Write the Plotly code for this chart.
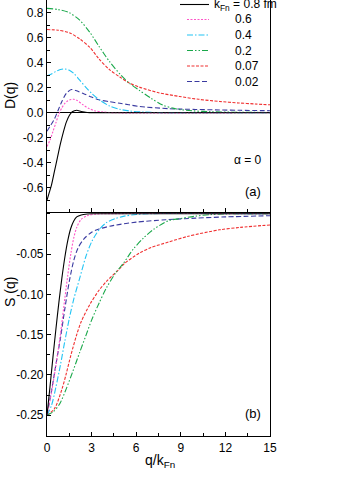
import plotly.graph_objects as go

# ---------------- data: panel (a) D(q) ----------------
q_D_08 = [0, 0.15, 0.3, 0.5, 0.7, 0.9, 1.1, 1.3, 1.5, 1.7, 2.0, 2.3, 2.7, 3.2, 4, 15]
D_08 = [-0.70, -0.64, -0.58, -0.47, -0.36, -0.25, -0.155, -0.075, -0.022, 0.008, 0.02, 0.01, 0.002, 0.0, 0.0, 0.0]

q_D_06 = [0, 0.2, 0.4, 0.6, 0.8, 1.0, 1.2, 1.4, 1.6, 1.8, 2.0, 2.4, 2.8, 3.2, 3.8, 4.5, 15]
D_06 = [-0.27, -0.22, -0.15, -0.08, -0.01, 0.04, 0.075, 0.095, 0.105, 0.107, 0.10, 0.065, 0.035, 0.016, 0.005, 0.0, 0.0]

q_D_04 = [0, 0.3, 0.6, 0.9, 1.2, 1.5, 1.8, 2.2, 2.6, 3.0, 3.5, 4.2, 4.9, 5.6, 6.5, 8, 15]
D_04 = [0.295, 0.31, 0.33, 0.345, 0.35, 0.34, 0.315, 0.26, 0.205, 0.155, 0.105, 0.054, 0.027, 0.013, 0.005, 0.0, 0.0]

q_D_02 = [0, 0.75, 1.5, 2.2, 2.9, 3.5, 4.2, 4.9, 5.5, 6.2, 7.0, 7.8, 8.7, 9.8, 11, 13, 15]
D_02 = [0.835, 0.825, 0.80, 0.74, 0.64, 0.53, 0.41, 0.31, 0.24, 0.18, 0.115, 0.06, 0.03, 0.015, 0.008, 0.003, 0.002]

q_D_007 = [0, 0.75, 1.5, 2.2, 2.9, 3.5, 4.2, 4.9, 5.5, 6.2, 7.5, 8.9, 10.2, 11.6, 12.9, 14, 15]
D_007 = [0.665, 0.66, 0.64, 0.59, 0.52, 0.43, 0.345, 0.285, 0.24, 0.205, 0.16, 0.13, 0.107, 0.09, 0.078, 0.07, 0.063]

q_D_002 = [0, 0.25, 0.5, 0.75, 1.0, 1.3, 1.65, 2.0, 2.5, 3.0, 3.5, 4.2, 4.9, 5.5, 6.2, 8.2, 10, 11.6, 13, 15]
D_002 = [-0.148, -0.10, -0.05, 0.02, 0.09, 0.155, 0.185, 0.175, 0.15, 0.125, 0.103, 0.088, 0.075, 0.064, 0.05, 0.032, 0.026, 0.022, 0.019, 0.016]

# ---------------- data: panel (b) S(q) ----------------
q_S_08 = [0, 0.2, 0.4, 0.6, 0.8, 1.0, 1.2, 1.4, 1.6, 1.8, 2.0, 2.3, 2.7, 3.0, 15]
S_08 = [-0.25, -0.215, -0.178, -0.143, -0.11, -0.08, -0.054, -0.033, -0.018, -0.009, -0.004, -0.0015, -0.0003, 0, 0]

q_S_06 = [0, 0.3, 0.6, 0.9, 1.2, 1.4, 1.6, 1.8, 2.0, 2.3, 2.7, 3.3, 4, 15]
S_06 = [-0.25, -0.222, -0.188, -0.15, -0.105, -0.076, -0.05, -0.03, -0.017, -0.007, -0.0025, -0.0005, 0, 0]

q_S_04 = [0, 0.3, 0.6, 0.9, 1.2, 1.5, 1.8, 2.2, 2.6, 3.0, 3.5, 4.0, 4.6, 5.2, 6.0, 7, 15]
S_04 = [-0.25, -0.238, -0.215, -0.188, -0.158, -0.13, -0.106, -0.08, -0.054, -0.035, -0.02, -0.011, -0.006, -0.003, -0.001, 0, 0]

q_S_02 = [0, 0.4, 0.85, 1.3, 1.75, 2.2, 2.6, 3.0, 3.5, 4.0, 4.6, 5.2, 5.8, 6.5, 7.2, 8.2, 8.9, 10, 11, 12, 13, 15]
S_02 = [-0.25, -0.246, -0.236, -0.217, -0.195, -0.172, -0.152, -0.132, -0.111, -0.092, -0.074, -0.060, -0.044, -0.03, -0.019, -0.0085, -0.0062, -0.003, -0.0012, -0.0003, 0, 0]

q_S_007 = [0, 0.5, 1.0, 1.3, 1.6, 2.0, 2.3, 2.9, 3.5, 4.0, 4.9, 5.2, 6.2, 7.0, 8.2, 9.5, 11.6, 13, 15]
S_007 = [-0.25, -0.242, -0.218, -0.198, -0.176, -0.15, -0.134, -0.112, -0.095, -0.084, -0.068, -0.062, -0.049, -0.042, -0.035, -0.028, -0.020, -0.017, -0.014]

q_S_002 = [0, 0.3, 0.6, 0.9, 1.2, 1.5, 1.8, 2.1, 2.5, 3.0, 3.5, 4.5, 6, 8, 10, 12, 15]
S_002 = [-0.25, -0.22, -0.187, -0.155, -0.118, -0.084, -0.058, -0.042, -0.031, -0.023, -0.019, -0.0145, -0.0105, -0.0075, -0.0055, -0.004, -0.0025]

# legend / series labels
series_labels = ["k<sub>Fn</sub> = 0.8 fm", "0.6", "0.4", "0.2", "0.07", "0.02"]

# tick labels
D_ticks = [-0.6, -0.4, -0.2, 0.0, 0.2, 0.4, 0.6, 0.8]
S_ticks = [-0.25, -0.20, -0.15, -0.10, -0.05]
q_ticks = [0, 3, 6, 9, 12, 15]

# ---------------- styles ----------------
FONT = "Liberation Sans, Arial, sans-serif"
styles = [
    ("#000000", "solid"),
    ("#ff55c8", "2px,1.5px"),
    ("#22c4f4", "6px,2px,1.5px,2px"),
    ("#1aa84a", "6px,2px,1.5px,2px,1.5px,2px"),
    ("#f03030", "3px,1.5px"),
    ("#3a3aa0", "5px,2.5px"),
]

D_data = [(q_D_08, D_08), (q_D_06, D_06), (q_D_04, D_04), (q_D_02, D_02), (q_D_007, D_007), (q_D_002, D_002)]
S_data = [(q_S_08, S_08), (q_S_06, S_06), (q_S_04, S_04), (q_S_02, S_02), (q_S_007, S_007), (q_S_002, S_002)]

W, H = 338, 495
PL, PR, PT, PB = 47, 270, 0, 436  # plot area in px
SPLIT = 212  # px boundary between panels

fig = go.Figure()
order = [5, 4, 3, 2, 1, 0]
for i in order:
    col, dash = styles[i]
    q, d = D_data[i]
    fig.add_trace(go.Scatter(x=q, y=d, mode="lines", xaxis="x", yaxis="y",
                             line=dict(color=col, dash=dash, width=1.1, shape="spline", smoothing=0.8),
                             showlegend=False, name=series_labels[i]))
for i in order:
    col, dash = styles[i]
    q, s = S_data[i]
    fig.add_trace(go.Scatter(x=q, y=s, mode="lines", xaxis="x2", yaxis="y2",
                             line=dict(color=col, dash=dash, width=1.1, shape="spline", smoothing=0.8),
                             showlegend=False, name=series_labels[i]))

def px2paper(px, py):
    return (px - PL) / (PR - PL), (PB - py) / (PB - PT)

split_frac = (PB - SPLIT) / (PB - PT)

axis_common = dict(showline=True, linecolor="black", linewidth=1.2, ticks="inside",
                   tickcolor="black", ticklen=4, tickwidth=1, showgrid=False, automargin=False,
                   tickfont=dict(family=FONT, size=12, color="black"))

D_range = [-(SPLIT - 112.7) / 125.0, 112.7 / 125.0]
S_range = [-(PB - 213.7) / 806.0, (213.7 - SPLIT) / 806.0]

fig.update_layout(
    width=W, height=H,
    margin=dict(l=PL, r=W - PR, t=PT, b=H - PB, autoexpand=False),
    paper_bgcolor="white", plot_bgcolor="white",
    xaxis=dict(axis_common, domain=[0, 1], range=[0, 15], anchor="y", tickvals=q_ticks,
               showticklabels=False, mirror=False,
               minor=dict(ticks="inside", tickmode="linear", tick0=0, dtick=1.5, ticklen=2.5, tickcolor="black")),
    yaxis=dict(axis_common, domain=[split_frac, 1], range=D_range, anchor="x",
               tickvals=D_ticks, ticktext=[f"{v:.1f}".replace("-0.0", "0.0") for v in D_ticks],
               mirror=True, zeroline=True, zerolinecolor="black", zerolinewidth=1.2,
               minor=dict(ticks="inside", tickmode="linear", tick0=0, dtick=0.1, ticklen=2.5, tickcolor="black")),
    xaxis2=dict(axis_common, domain=[0, 1], range=[0, 15], anchor="y2", tickvals=q_ticks,
                ticktext=[str(v) for v in q_ticks], mirror=False,
                minor=dict(ticks="inside", tickmode="linear", tick0=0, dtick=1.5, ticklen=2.5, tickcolor="black")),
    yaxis2=dict(axis_common, domain=[0, split_frac], range=S_range, anchor="x2",
                tickvals=S_ticks, ticktext=[f"{v:.2f}" for v in S_ticks], mirror=True, zeroline=False,
                minor=dict(ticks="inside", tickmode="linear", tick0=0, dtick=0.025, ticklen=2.5, tickcolor="black")),
)

annotations = []
shapes = []

# manual legend
row_y = [4.5, 19.5, 35, 50.5, 66, 81.5]
for i, lab in enumerate(series_labels):
    col, dash = styles[i]
    x0 = 180 if i == 0 else 187
    tx = 212 if i == 0 else 233
    y = row_y[i]
    ax0, ay = px2paper(x0, y)
    ax1, _ = px2paper(209, y)
    shapes.append(dict(type="line", xref="paper", yref="paper", x0=ax0, x1=ax1, y0=ay, y1=ay,
                       line=dict(color=col, dash=dash, width=1.1)))
    tX, tY = px2paper(tx, y)
    annotations.append(dict(text=lab, xref="paper", yref="paper", x=tX, y=tY, xanchor="left",
                            yanchor="middle", showarrow=False,
                            font=dict(family=FONT, size=12, color="black")))

def ann(text, px, py, size=13, angle=0, anchor="center"):
    X, Y = px2paper(px, py)
    annotations.append(dict(text=text, xref="paper", yref="paper", x=X, y=Y, xanchor=anchor,
                            yanchor="middle", showarrow=False, textangle=angle,
                            font=dict(family=FONT, size=size, color="black")))

ann("α = 0", 248, 160, 12)
ann("(a)", 253, 191, 13)
ann("(b)", 253, 413, 13)
ann("D(q)", 10, 96, 14, angle=-90)
ann("S (q)", 10, 292, 14, angle=-90)
ann("q/k<sub>Fn</sub>", 160, 461, 14)

fig.update_layout(annotations=annotations, shapes=shapes)
fig.write_html("out.html", config={"displayModeBar": False},
               post_script="document.body.style.margin='0';document.body.style.overflow='hidden';")
